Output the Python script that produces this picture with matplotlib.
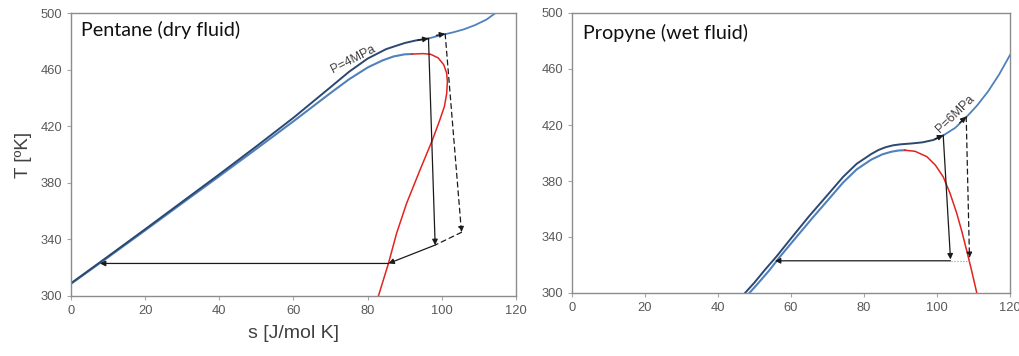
import matplotlib.pyplot as plt

# Pentane (dry fluid), P = 4 MPa
pen_iso_s = [0, 10, 20, 30, 40, 50, 60, 65, 70, 75, 80, 85, 90, 93, 96.4]
pen_iso_T = [309, 328, 347.2, 366.6, 386, 405.8, 426, 436.8, 447.6, 458.5, 467.8, 474.5, 478.8, 480.6, 482]
pen_sup_s = [96.4, 100, 103, 106, 109, 112, 114.5]
pen_sup_T = [482, 484.5, 486.3, 488.5, 491.5, 495.3, 500]
pen_liq_s = [0, 10, 20, 30, 40, 50, 60, 65, 70, 75, 80, 84, 87, 90, 92]
pen_liq_T = [308.6, 327.4, 346.4, 365.6, 384.7, 404, 423.5, 433.5, 443.5, 453.2, 461.5, 466.5, 469.3, 470.8, 471]
pen_vap_s = [92, 95, 97, 99, 100.5, 101.3, 101.5, 101.3, 100.7, 99.4, 97.5, 94.1, 90.5,
             87.8, 85.6, 82.9]
pen_vap_T = [471, 471.3, 470.8, 468.3, 463.5, 457.5, 451.5, 443, 434, 424, 410.5, 389, 365.5,
             344.3, 323, 300]

# Propyne (wet fluid), P = 6 MPa
pro_iso_s = [47.4, 50, 53, 56, 60, 65, 70, 74.3, 78, 82, 84, 86, 88, 90, 93, 96, 99, 101.7]
pro_iso_T = [300, 307.5, 317, 326, 339, 355, 370, 383, 392.3, 399.3, 402.2, 404.2, 405.5, 406.2,
             406.8, 407.6, 409.3, 412.5]
pro_sup_s = [101.7, 105, 108, 111, 114, 117, 120]
pro_sup_T = [412.5, 418, 425.5, 434, 444, 456, 470]
pro_liq_s = [48.6, 51, 54, 57, 61, 66, 70, 74.3, 78, 82, 85, 87.5, 89.5, 91.2]
pro_liq_T = [300, 307, 316, 326, 338.5, 354, 366, 379, 388.3, 395.3, 399, 400.9, 401.8, 402]
pro_vap_s = [91.2, 94, 97.2, 99.5, 101.7, 103.6, 105.4, 106.8, 108.1, 109.3, 110.4, 110.9]
pro_vap_T = [402, 401.2, 397.4, 391.5, 383, 371, 357, 344, 330.7, 318, 305.7, 300]

DARK = '#2c4770'
BLUE = '#4f81bd'
RED = '#e3231f'
INK = '#1a1a1a'

plt.rcParams['font.family'] = ['Liberation Sans', 'DejaVu Sans']

fig = plt.figure(figsize=(10.2, 3.56), dpi=100)
ax1 = fig.add_axes([71 / 1020, 60 / 356, 445 / 1020, 283 / 356])
ax2 = fig.add_axes([572 / 1020, 63 / 356, 438 / 1020, 280 / 356])


def arrow(ax, p0, p1, ls='-', head=True, color=INK, lw=0.9):
    ax.annotate('', xy=p1, xytext=p0,
                arrowprops=dict(arrowstyle='-|>' if head else '-', color=color, lw=lw,
                                linestyle=ls, shrinkA=0, shrinkB=0, mutation_scale=8))


for ax in (ax1, ax2):
    ax.set_xlim(0, 120)
    ax.set_ylim(300, 500)
    ax.set_xticks(range(0, 121, 20))
    ax.set_yticks(range(300, 501, 40))
    ax.tick_params(labelsize=9.3, labelcolor='#595959', color='#a6a6a6', length=3, width=0.8)
    for sp in ax.spines.values():
        sp.set_color('#8c8c8c')
        sp.set_linewidth(1.0)

# left panel
ax1.plot(pen_liq_s, pen_liq_T, color=BLUE, lw=1.5)
ax1.plot(pen_vap_s, pen_vap_T, color=RED, lw=1.1)
ax1.plot(pen_iso_s, pen_iso_T, color=DARK, lw=1.4)
ax1.plot(pen_sup_s, pen_sup_T, color=BLUE, lw=1.3)
arrow(ax1, (93.5, 480.8), (96.4, 482))
arrow(ax1, (98.5, 484.2), (100.9, 485.3))
arrow(ax1, (96.4, 482), (98.2, 336))
arrow(ax1, (100.9, 485.3), (105.3, 345), ls=(0, (4, 3)))
arrow(ax1, (105.3, 345), (98.2, 336), ls=(0, (4, 3)), head=False)
arrow(ax1, (98.2, 336), (85.6, 323))
arrow(ax1, (85.6, 323), (7.8, 323))
ax1.text(76, 467.5, 'P=4MPa', rotation=27, fontsize=9, color='#404040',
         ha='center', va='center')
ax1.text(0.022, 0.94, 'Pentane (dry fluid)', transform=ax1.transAxes, family='Lato',
         fontsize=14.2, color='#111111', va='center')
ax1.set_xlabel('s [J/mol K]', fontsize=14, color='#404040', labelpad=6)
ax1.set_ylabel('T [ºK]', fontsize=13.5, color='#404040', labelpad=6)

# right panel
ax2.plot(pro_liq_s, pro_liq_T, color=BLUE, lw=1.5)
ax2.plot(pro_vap_s, pro_vap_T, color=RED, lw=1.1)
ax2.plot(pro_iso_s, pro_iso_T, color=DARK, lw=1.4)
ax2.plot(pro_sup_s, pro_sup_T, color=BLUE, lw=1.3)
arrow(ax2, (99.5, 410), (101.7, 412.8))
arrow(ax2, (106.2, 421.5), (108, 426))
arrow(ax2, (101.7, 412.8), (103.7, 324))
arrow(ax2, (103.7, 323), (55.6, 323))
ax2.plot([103.7, 108.9], [323, 323], color='#9a9a9a', lw=0.8, ls=':')
arrow(ax2, (108, 426), (108.9, 325), ls=(0, (4, 3)))
ax2.text(104.9, 428, 'P=6MPa', rotation=44, fontsize=9, color='#404040',
         ha='center', va='center')
ax2.text(0.024, 0.93, 'Propyne (wet fluid)', transform=ax2.transAxes, family='Lato',
         fontsize=14.2, color='#111111', va='center')

fig.savefig('out.png', dpi=100)
